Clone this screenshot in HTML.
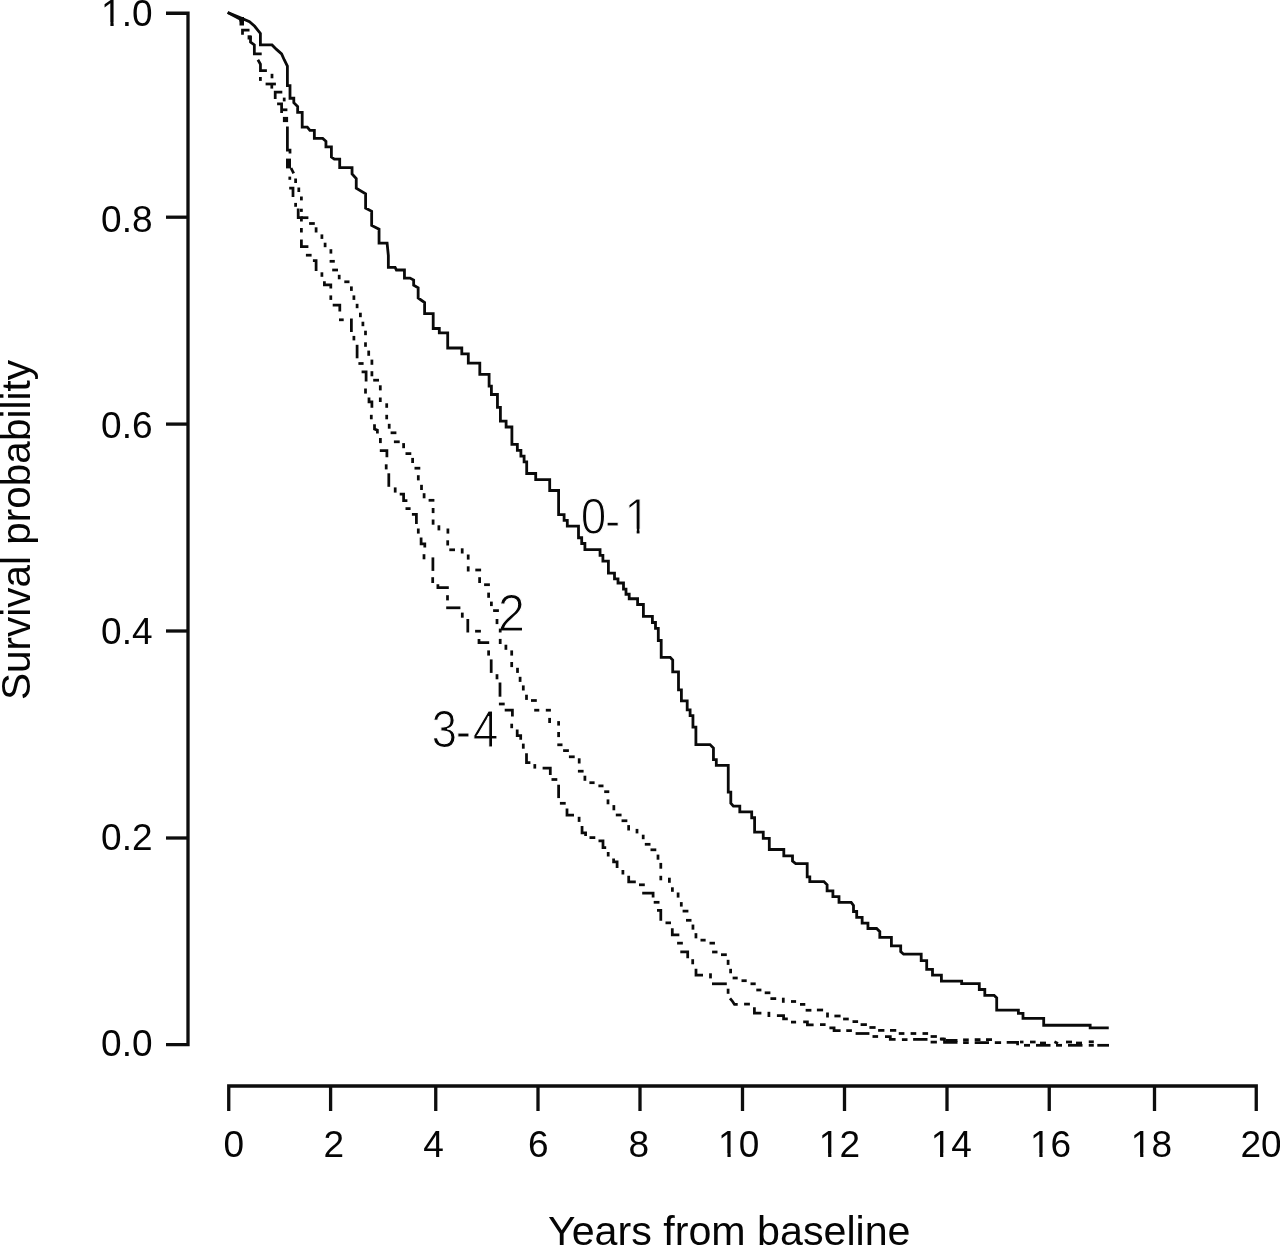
<!DOCTYPE html>
<html lang="en"><head><meta charset="utf-8"><title>Survival probability by years from baseline</title>
<style>html,body{margin:0;padding:0;background:#fff}svg{display:block}text{font-family:"Liberation Sans",sans-serif;fill:#050505}</style></head><body>
<svg width="1280" height="1246" viewBox="0 0 1280 1246">
<rect width="1280" height="1246" fill="#fff"/>
<g font-size="50" stroke="#fff" stroke-width="1.1" vector-effect="non-scaling-stroke" style="paint-order:fill stroke">
<text transform="translate(580.75,533.55) scale(0.92,1)" x="0 26.3 47.55" y="0 3.2 0" vector-effect="non-scaling-stroke">0-1</text>
<text transform="translate(497.85,630.5) scale(0.98,1.02)" vector-effect="non-scaling-stroke">2</text>
<text transform="translate(431.45,747) scale(0.92,1.02)" x="0 26.47 45" y="0 2.2 0" vector-effect="non-scaling-stroke">3-4</text>
</g>
<g fill="#fff"><rect x="626.80" y="528.78" width="9.87" height="5.62"/><rect x="639.52" y="528.78" width="9.36" height="5.62"/></g>
<g stroke="#0d0d0d" stroke-width="3.3" fill="none" stroke-linecap="butt">
<path d="M166,13.25H188V1044.7H166"/>
<path d="M166,217.2H188"/>
<path d="M166,424.1H188"/>
<path d="M166,631H188"/>
<path d="M166,838H188"/>
<path d="M228.75,1111V1086H1256.25V1111"/>
<path d="M330.6,1086V1111"/>
<path d="M435.75,1086V1111"/>
<path d="M538,1086V1111"/>
<path d="M640,1086V1111"/>
<path d="M742.5,1086V1111"/>
<path d="M844.5,1086V1111"/>
<path d="M947,1086V1111"/>
<path d="M1049.25,1086V1111"/>
<path d="M1154.5,1086V1111"/>
</g>
<g font-size="37" text-anchor="middle">
<text x="233.75" y="1157">0</text>
<text x="333.75" y="1157">2</text>
<text x="433.5" y="1157">4</text>
<text x="538.25" y="1157">6</text>
<text x="638.75" y="1157">8</text>
<text x="738.7" y="1157">10</text>
<text x="839.4" y="1157">12</text>
<text x="951.3" y="1157">14</text>
<text x="1050.6" y="1157">16</text>
<text x="1151.4" y="1157">18</text>
<text x="1261" y="1157">20</text>
</g>
<g font-size="37" text-anchor="end">
<text x="152.5" y="26">1.0</text>
<text x="152.5" y="232">0.8</text>
<text x="152.5" y="438">0.6</text>
<text x="152.5" y="644">0.4</text>
<text x="152.5" y="850">0.2</text>
<text x="152.5" y="1055.6">0.0</text>
</g>
<g fill="#fff"><rect x="719.98" y="1153.38" width="7.46" height="4.47"/><rect x="730.69" y="1153.38" width="7.05" height="4.47"/><rect x="820.68" y="1153.38" width="7.46" height="4.47"/><rect x="831.39" y="1153.38" width="7.05" height="4.47"/><rect x="932.58" y="1153.38" width="7.46" height="4.47"/><rect x="943.29" y="1153.38" width="7.05" height="4.47"/><rect x="1031.88" y="1153.38" width="7.46" height="4.47"/><rect x="1042.59" y="1153.38" width="7.05" height="4.47"/><rect x="1132.68" y="1153.38" width="7.46" height="4.47"/><rect x="1143.39" y="1153.38" width="7.05" height="4.47"/><rect x="102.92" y="22.38" width="7.46" height="4.47"/><rect x="113.63" y="22.38" width="7.05" height="4.47"/></g>
<text font-size="41.2" transform="translate(548,1244.8) scale(1,1)">Years from baseline</text>
<text font-size="40.5" transform="translate(30.2,700) rotate(-90)">Survival probability</text>
<g fill="none" stroke="#0a0a0a" stroke-width="2.8" stroke-linejoin="miter">
<polyline points="227.7,12.5 239.3,17.3 249.5,21.8 254.7,26.3 260.4,33.4 260.4,44.9 272,44.9 276.5,49.4 281.6,53.9 284.2,59.7 287.4,66.1 287.4,85.7 290,85.7 290,98.25 293.8,98.25 293.8,102.7 297.65,106.6 297.65,112.35 302.2,112.35 302.2,127.1 307.3,127.1 309.9,130.35 314.35,130.35 314.35,138.35 322.7,138.35 325.95,141.3 325.95,146.85 331.4,146.85 331.4,157 334.3,159.05 339.7,159.05 339.7,167.6 352.05,167.6 352.05,174 356.25,178.5 356.25,188.2 365.6,193.9 365.6,208.1 371.65,211.3 371.65,225.4 379.05,229.2 379.05,243.05 387.1,243.05 388.35,255.6 388.35,267.45 395.1,267.45 396.4,270 404.45,270 404.45,278.05 410,278.05 413.65,280 413.65,285.1 418.15,287.7 418.15,298 424.6,302.5 424.6,313.7 433.2,313.7 433.2,328.5 439.3,328.5 439.3,332.95 447.7,332.95 447.7,348 461.8,348 461.8,353.8 468.3,353.8 468.3,363.1 479.8,363.1 479.8,374.3 489.1,374.3 489.1,386.2 491.4,386.2 491.4,394.5 497.45,394.5 497.45,407.35 500.4,407.35 500.4,421.2 506.1,421.2 506.1,427 511.9,427 511.9,444.3 517.35,444.3 517.35,450.4 520.9,450.4 520.9,456.15 524.1,456.15 524.1,461.95 526.7,461.95 526.7,473.5 535.7,473.5 535.7,479.6 549.7,479.6 549.7,490.5 558.6,490.5 558.6,514.6 564.1,514.6 564.1,520.4 567.3,520.4 567.3,526.2 578.5,526.2 578.5,537.75 581.7,537.75 581.7,543.5 584.9,543.5 584.9,549.6 600.05,549.6 600.05,555.4 602.9,555.4 602.9,561.2 608.4,561.2 608.4,573.05 614.5,573.05 614.5,578.85 618,578.85 618,583 623.5,583 623.5,589.1 626,589.1 626,594.25 629.2,594.25 629.2,598.75 637.6,598.75 637.6,604.5 643.4,604.5 643.4,616.4 652.4,616.4 652.4,622.5 655.5,622.5 655.5,628.3 658.3,628.3 658.3,640.5 661.2,640.5 661.2,657.3 670.2,657.3 672.7,660.1 672.7,671.95 678.5,671.95 678.5,689.95 681.4,689.95 681.4,700.85 687.2,700.85 687.2,709.85 690.1,709.85 690.1,715.6 692.95,715.6 692.95,727.2 695.9,727.2 695.9,744.6 710,744.6 713.45,748 713.45,759.6 716.3,759.6 716.3,765.4 728.25,765.4 728.25,792.05 730.8,792.05 730.8,803.3 733.4,806.2 739.8,806.2 739.8,811.95 751.7,811.95 751.7,817.75 754.6,817.75 754.6,832.2 763.25,832.2 763.25,838.3 769.3,838.3 769.3,849.5 783.8,849.5 783.8,855.9 792.5,855.9 792.5,861.1 795.7,863.6 807.2,863.6 807.2,876.8 809.8,876.8 809.8,881.6 823.9,881.6 827.1,884.8 827.1,890.95 832.9,890.95 832.9,896.7 839,896.7 839,902.35 851.2,902.35 853.5,905.4 853.5,911.5 856.7,911.5 856.7,917.3 862.15,917.3 862.15,923.05 867.95,923.05 867.95,928.5 876.6,928.5 879.8,931.7 879.8,937.3 891.4,937.3 891.4,945.9 900.7,945.9 900.7,951.6 903.6,954.2 921.2,954.2 921.2,960.6 926.7,960.6 926.7,969.3 932.5,969.3 932.5,975.1 941.4,975.1 941.4,981.2 961.65,981.2 961.65,983.7 979.3,983.7 979.3,989.5 984.8,989.5 984.8,995.3 994.1,995.3 996.7,997.9 996.7,1010.1 1018.38,1010.1 1018.38,1013.4 1023,1013.4 1023,1018.3 1043.7,1018.3 1043.7,1025.25 1090.15,1025.25 1090.15,1027.8 1108.75,1027.8"/>
</g>
<g fill="none" stroke="#0a0a0a" stroke-width="2.75" stroke-linejoin="miter">
<!-- shared start of groups 2 and 3-4 -->
<polyline points="227.7,12.5 240,19 242.5,24.5"/>
<polyline points="242.5,34.7 242.5,30.2 249.5,30.2"/>
<polyline points="250.5,36 250.5,42 254.35,45 254.35,53.9 261.7,53.9"/>
<polyline points="257.9,59.7 260.45,64.2 260.45,70.65 266.9,70.65"/>
<polyline points="260.4,77 260.4,80.9"/>
<polyline points="272,73.8 272,78.3"/>
<polyline points="265.6,84 275.9,84"/>
<polyline points="271.8,84 271.8,88.6"/>
<polyline points="275.2,98.9 275.2,92.15 282.3,92.15"/>
<polyline points="284.2,97.6 284.2,101.4"/>
<polyline points="277.1,103.8 281.6,103.8 281.6,113"/>
<polyline points="282.9,109.8 287.4,109.8"/>
<polyline points="287.4,126.5 287.4,150 290,150 290,153.4"/>
<polyline points="291,168 293.7,173.4"/>
<rect x="239.5" y="17" width="4.5" height="8.5" fill="#0a0a0a" stroke="none"/>
<rect x="247.6" y="35.3" width="4" height="4.2" fill="#0a0a0a" stroke="none"/>
<rect x="282.9" y="116.9" width="5.2" height="5.2" fill="#0a0a0a" stroke="none"/>
<rect x="286" y="158.6" width="5" height="9.8" fill="#0a0a0a" stroke="none"/>
<!-- group 3-4 (dash-dot) -->
<polyline points="289.8,176.6 289.8,179.8"/>
<polyline points="289.2,188.2 293,188.2 293,197.1"/>
<polyline points="295.6,202.9 295.6,206.8"/>
<polyline points="298.2,208.6 298.2,217.7 301.4,217.7 301.4,221.5"/>
<polyline points="301.4,228 301.4,232.5"/>
<polyline points="301.4,239.5 301.4,246.6 308.4,246.6"/>
<polyline points="305.9,255.2 311.6,255.2"/>
<polyline points="312.9,260.7 316.1,260.7 316.1,271"/>
<polyline points="321.9,272.3 321.9,276.8"/>
<polyline points="324.4,281.3 324.4,284.85 330.8,284.85 330.8,288.6"/>
<polyline points="330.8,295.4 330.8,299.9"/>
<polyline points="332.7,305 339.8,305 339.8,311.5"/>
<polyline points="339,319.8 343.7,319.8"/>
<polyline points="351.4,318.5 351.4,332"/>
<polyline points="353.9,335.9 353.9,340.4"/>
<polyline points="357.1,344.8 357.1,358.3"/>
<polyline points="358.4,363.5 363.6,363.5"/>
<polyline points="361.6,371.8 366.1,371.8 366.1,381.4"/>
<polyline points="365.5,388.5 365.5,393.6"/>
<polyline points="369,397.5 369,401.75 371.9,401.75 371.9,407.8"/>
<polyline points="371.3,414.8 371.3,419.3"/>
<polyline points="374.5,424.2 374.5,429 377.4,430.2 377.4,433.5"/>
<polyline points="380.4,438 380.4,443.1"/>
<polyline points="379.8,450.6 386.9,450.6 386.9,457.2"/>
<polyline points="386.2,464.3 386.2,469.4"/>
<polyline points="388.8,473.3 388.8,486.8"/>
<polyline points="395.2,487.4 395.2,492.6"/>
<polyline points="399.7,494.15 403.6,494.15 403.6,500.6 407.4,500.6"/>
<polyline points="405.5,508.6 410.6,508.6"/>
<polyline points="411.9,514.4 416.4,514.4 416.4,524"/>
<polyline points="418.3,528.5 418.3,533.6"/>
<polyline points="421.1,537.5 421.1,543.95 424.8,543.95 424.8,547.5"/>
<polyline points="424,554.2 424,559.3"/>
<polyline points="432.9,557.4 432.9,570.9"/>
<polyline points="432.7,577.2 432.7,583"/>
<polyline points="437.9,584.3 437.9,587.5 448.8,587.5"/>
<polyline points="447.5,595.2 447.5,600.4"/>
<polyline points="446.2,607.8 460.4,607.8"/>
<polyline points="462.3,612.6 462.3,617.7"/>
<polyline points="467.8,619 467.8,632.5"/>
<polyline points="475.1,631.2 480.9,631.2"/>
<polyline points="479,638.9 479,642.7 489.2,642.7"/>
<polyline points="488.6,650.4 488.6,655.6"/>
<polyline points="491.2,659.4 491.2,672.9"/>
<polyline points="497,674.2 497,679.3"/>
<polyline points="500,682.5 500,696.7"/>
<polyline points="498.9,704 504.7,704"/>
<polyline points="504.7,710.2 512.4,710.2 512.4,716.6"/>
<polyline points="511.7,723.7 511.7,728.2"/>
<polyline points="517.2,729.4 517.2,735.55 520.7,735.55 520.7,739.7"/>
<polyline points="523.3,743.6 523.3,748.7"/>
<polyline points="526.5,753.2 526.5,762.5 530.4,762.5"/>
<polyline points="534.8,764.1 534.8,768.6"/>
<polyline points="542.6,768 550.3,768 550.3,775"/>
<polyline points="551.5,779.5 557.3,779.5"/>
<polyline points="558.6,784.7 558.6,798.1"/>
<polyline points="559.9,803.3 565.7,803.3"/>
<polyline points="567,808.4 567,815.1 574,815.1"/>
<polyline points="579.1,816.8 579.1,821.9"/>
<polyline points="582.05,826 582.05,832.75 585.6,832.75 585.6,836"/>
<polyline points="589.5,837.6 595.3,837.6"/>
<polyline points="598.5,840.75 603,840.75 603,847.5 606.2,847.5"/>
<polyline points="608.2,852 608.2,856.5"/>
<polyline points="613.6,858.4 613.6,861.95 617.1,861.95 617.1,868.1"/>
<polyline points="622.9,870 622.9,874.5"/>
<polyline points="628.7,875.8 628.7,881.9 635.8,881.9"/>
<polyline points="639,884.8 644.8,884.8"/>
<polyline points="642.2,893.1 653.1,893.1 653.1,897.6"/>
<polyline points="653.7,902.3 659.5,902.3"/>
<polyline points="657,910.4 660.8,910.4 660.8,920.7"/>
<polyline points="665.5,922.85 671,922.85"/>
<polyline points="672.3,928.35 672.3,934.8 679.35,934.8"/>
<polyline points="677.1,943.15 682.85,943.15"/>
<polyline points="680.3,951.85 687.7,951.85 687.7,958.2"/>
<polyline points="692.7,959.2 692.7,964.3"/>
<polyline points="696,968.8 696,975.2 703,975.2"/>
<polyline points="710.5,973.3 710.5,978.4"/>
<polyline points="712,983.8 726.8,983.8"/>
<polyline points="728.1,988.7 728.1,993.8"/>
<polyline points="730,998.3 732.6,1001.5 734.5,1004.45 737.7,1004.45"/>
<polyline points="744.1,1004.1 749.9,1004.1"/>
<polyline points="754.4,1007.3 754.4,1013.1 761.4,1013.1"/>
<polyline points="768.9,1011.8 768.9,1017"/>
<polyline points="776.9,1015.7 783.6,1015.7 783.6,1018.9 787.8,1018.9"/>
<polyline points="791,1022.1 796.1,1022.1"/>
<polyline points="803.2,1021.85 807.4,1021.85 807.4,1024.8 813.6,1024.8"/>
<polyline points="820,1024.6 825.6,1024.6"/>
<polyline points="829.4,1027.75 834.08,1027.75 834.08,1030.6 840.6,1030.6"/>
<polyline points="846.25,1030.6 851.9,1030.6"/>
<polyline points="855.6,1033.5 869.4,1033.5"/>
<polyline points="872.5,1036.5 878.1,1036.5"/>
<polyline points="885,1036.58 890.3,1036.58 890.3,1039.4 895.6,1039.4"/>
<polyline points="901.9,1039.6 907.5,1039.6"/>
<polyline points="913.1,1039.4 927.5,1039.4"/>
<polyline points="930.6,1042.1 936.9,1042.1"/>
<polyline points="940.6,1039.2 944.5,1039.2 944.5,1042.3 957.5,1042.3"/>
<polyline points="963.1,1042.6 968.75,1042.6"/>
<polyline points="974.7,1042.6 989,1042.6"/>
<polyline points="994.8,1042.6 1001.1,1042.6"/>
<polyline points="1006.7,1042.3 1017.6,1042.3 1017.6,1045.3"/>
<polyline points="1024,1045.3 1030,1045.3"/>
<polyline points="1036,1045.3 1050.5,1045.3"/>
<polyline points="1056,1045.3 1062,1045.3"/>
<polyline points="1068,1045.3 1082.5,1045.3"/>
<polyline points="1088.75,1045.3 1093.8,1045.3"/>
<polyline points="1097.3,1045.3 1109,1045.3"/>
<!-- group 2 (dotted) -->
<polyline points="295.6,178.5 295.6,183"/>
<polyline points="298.8,187.5 298.8,192"/>
<polyline points="301.4,196.5 301.4,200.4"/>
<polyline points="301.4,208.7 301.4,211.9"/>
<polyline points="301.4,217.7 308.4,217.7"/>
<polyline points="309.1,223.5 314.8,223.5"/>
<polyline points="316.1,227.3 316.1,232.5"/>
<polyline points="321.9,234.4 321.9,238.9"/>
<polyline points="325.1,242.7 325.1,247.2"/>
<polyline points="330.9,249.2 330.9,253.6"/>
<polyline points="329.6,261.3 334.8,261.3"/>
<polyline points="332.2,270 338,270"/>
<polyline points="339.2,274.8 339.2,279.3"/>
<polyline points="344.3,281.8 349.5,281.8"/>
<polyline points="351.4,286.4 351.4,290.9"/>
<polyline points="353.9,295.4 353.9,299.9"/>
<polyline points="357.1,303.8 357.1,308.2"/>
<polyline points="360.4,312.7 360.4,317.2"/>
<polyline points="362.9,321.7 362.9,326.2"/>
<polyline points="365.5,330.7 365.5,335.2"/>
<polyline points="365.5,342.3 365.5,346.8"/>
<polyline points="368.7,350.6 368.7,355.8"/>
<polyline points="371.9,359.6 371.9,364.8"/>
<polyline points="371.9,371.2 371.9,376.3"/>
<polyline points="373.2,380.2 379,380.2"/>
<polyline points="380.3,385.3 380.3,390.4"/>
<polyline points="380.3,397.5 380.3,402"/>
<polyline points="386.7,403.3 386.7,407.8"/>
<polyline points="386.7,414.8 386.7,419.3"/>
<polyline points="389.2,423.8 389.2,428.7"/>
<polyline points="390.6,432.8 396.4,432.8"/>
<polyline points="393.9,441.8 399.7,441.8"/>
<polyline points="403.6,443.1 403.6,448.2"/>
<polyline points="405.5,453.6 411.3,453.6"/>
<polyline points="412.6,457.9 412.6,463"/>
<polyline points="414.5,468.2 420.3,468.2"/>
<polyline points="418.3,475.2 418.3,480.4"/>
<polyline points="421.5,484.8 421.5,490"/>
<polyline points="424.1,493.2 424.1,498.3"/>
<polyline points="428.6,500.3 434.4,500.3"/>
<polyline points="433.1,508 433.1,513.1"/>
<polyline points="433.1,519.5 433.1,524.7"/>
<polyline points="438.9,525.3 438.9,530.4"/>
<polyline points="447.9,528.5 447.9,533.6"/>
<polyline points="447.7,540.3 447.7,545.5"/>
<polyline points="449.3,549.8 455,549.8"/>
<polyline points="462.2,548.3 462.2,553.5"/>
<polyline points="468.2,554.5 468.2,559.6"/>
<polyline points="468.2,566.3 468.2,571.5"/>
<polyline points="475.3,570 481.1,570"/>
<polyline points="479.6,577.2 479.6,583"/>
<polyline points="484.1,584.7 489.9,584.7"/>
<polyline points="488.6,592.6 488.6,597.8"/>
<polyline points="491.4,601.6 491.4,606.1"/>
<polyline points="493.1,610.6 498.9,610.6"/>
<polyline points="497,619 497,624.1"/>
<polyline points="500.2,628.6 500.2,632.5"/>
<polyline points="500.2,638.9 500.2,644"/>
<polyline points="505.9,644.7 505.9,649.8"/>
<polyline points="511.7,650.4 511.7,655.6"/>
<polyline points="511.7,662 511.7,667.1"/>
<polyline points="517.5,667.8 517.5,672.9"/>
<polyline points="520.1,676.8 520.1,681.9"/>
<polyline points="523.3,685.4 523.3,690.5"/>
<polyline points="526.5,694.7 526.5,699.9"/>
<polyline points="531,700.5 536.8,700.5"/>
<polyline points="534.2,710.2 539.3,710.2"/>
<polyline points="545.8,710.2 550.9,710.2"/>
<polyline points="549.6,717.9 549.6,723"/>
<polyline points="558.6,721.1 558.6,725.6"/>
<polyline points="558.6,732 558.6,737.1"/>
<polyline points="557.3,744.8 562.5,744.8"/>
<polyline points="563.1,750.6 568.9,750.6"/>
<polyline points="568.9,756.8 574.7,756.8"/>
<polyline points="579.2,758.3 579.2,763.5"/>
<polyline points="577.9,771.2 583.6,771.2"/>
<polyline points="584.9,775.7 584.9,780.8"/>
<polyline points="589.4,782.7 594.6,782.7"/>
<polyline points="598.4,785.9 603.5,785.9"/>
<polyline points="604.2,791.7 609.3,791.7"/>
<polyline points="608,799.4 608,804.3"/>
<polyline points="613.85,805.1 613.85,810.3"/>
<polyline points="615.8,815 621.55,815"/>
<polyline points="621.55,820.75 627.35,820.75"/>
<polyline points="628.65,825.1 628.65,830.5"/>
<polyline points="637,828.9 637,833.4"/>
<polyline points="643.2,834.7 643.2,839.2"/>
<polyline points="644.8,844.3 650.5,844.3"/>
<polyline points="650.5,849.8 656.3,849.8"/>
<polyline points="658,854.6 658,859.7"/>
<polyline points="660.8,862.9 660.8,868.7"/>
<polyline points="660.8,875.8 660.8,880.3"/>
<polyline points="669.4,877.7 669.4,882.8"/>
<polyline points="672.4,887.3 672.4,891.8"/>
<polyline points="678.1,892.5 678.1,897.6"/>
<polyline points="681.3,902.1 681.3,906.6"/>
<polyline points="682.6,911.1 688.4,911.1"/>
<polyline points="686,920.3 691.5,920.3"/>
<polyline points="692.95,924.55 692.95,929.65"/>
<polyline points="695.95,933.15 695.95,938.35"/>
<polyline points="700.5,940.15 705.65,940.15"/>
<polyline points="709.5,943.15 714.95,943.15"/>
<polyline points="712.1,952 717.5,952"/>
<polyline points="721,954.7 726.8,954.7"/>
<polyline points="728.1,959.8 728.1,964.9"/>
<polyline points="730.6,968.8 730.6,973.3"/>
<polyline points="732.6,978 737.7,978"/>
<polyline points="741.5,980.7 746.7,980.7"/>
<polyline points="750.5,983.8 755.7,983.8"/>
<polyline points="756.3,990 761.4,990"/>
<polyline points="764.7,992.8 770.4,992.8"/>
<polyline points="770.4,998.6 776.2,998.6"/>
<polyline points="783.3,997.7 783.3,1002.8"/>
<polyline points="791,1001.5 796.1,1001.5"/>
<polyline points="800,1004.4 805.3,1004.4"/>
<polyline points="805.65,1010.25 811.4,1010.25"/>
<polyline points="816.9,1010 823.1,1010"/>
<polyline points="827.5,1012.5 827.5,1017.5"/>
<polyline points="834.4,1016 840.6,1016"/>
<polyline points="843.1,1019 848.75,1019"/>
<polyline points="852.5,1021.6 858.1,1021.6"/>
<polyline points="860.6,1024.6 866.9,1024.6"/>
<polyline points="869.4,1027.5 875.6,1027.5"/>
<polyline points="878.1,1030.4 884.4,1030.4"/>
<polyline points="890,1030.4 896.25,1030.4"/>
<polyline points="898.75,1033.5 904.4,1033.5"/>
<polyline points="910.6,1033.5 916.25,1033.5"/>
<polyline points="922.5,1033.5 928.1,1033.5"/>
<polyline points="930.6,1036.5 936.9,1036.5"/>
<polyline points="939.9,1039 944.5,1039"/>
<polyline points="946,1040.4 957.5,1040.4"/>
<polyline points="963.1,1039.8 968.75,1039.8"/>
<polyline points="974.7,1039.6 980.5,1039.6"/>
<polyline points="986,1039.6 992,1039.6"/>
<polyline points="1020,1042 1023.5,1042"/>
<polyline points="1030,1042 1035.6,1042"/>
<polyline points="1040,1043 1046,1043"/>
<polyline points="1054.4,1041.8 1058,1043.5"/>
<polyline points="1066,1042 1072,1042"/>
<polyline points="1076,1043 1082,1043"/>
<polyline points="1088.75,1041.8 1093.8,1041.8"/>
</g>
</svg></body></html>
